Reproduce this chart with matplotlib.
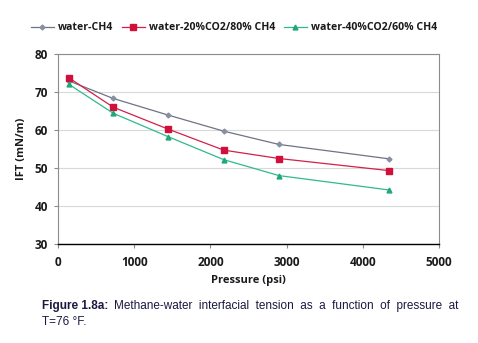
import matplotlib
matplotlib.use("Agg")
import matplotlib.pyplot as plt

pressure = [145, 725, 1450, 2175, 2900, 4350]
ift_ch4 = [72.9, 68.3, 63.9, 59.7, 56.2, 52.4]
ift_20 = [73.7, 66.0, 60.2, 54.7, 52.5, 49.3]
ift_40 = [72.0, 64.4, 58.2, 52.2, 48.0, 44.2]
labels = ["water-CH4", "water-20%CO2/80% CH4", "water-40%CO2/60% CH4"]
xticks = [0, 1000, 2000, 3000, 4000, 5000]
yticks = [30, 40, 50, 60, 70, 80]

fig = plt.figure(figsize=(4.78, 3.43), dpi=100)
ax = fig.add_axes([58/478, 1-244/343, (439-58)/478, (244-54)/343])

font = "Open Sans"
ax.plot(pressure, ift_ch4, color="#6f7385", lw=0.9, marker="D", ms=2.5,
        mfc="#8a8fa0", mec="#8a8fa0", label=labels[0])
ax.plot(pressure, ift_20, color="#d2204a", lw=0.9, marker="s", ms=4.5,
        mfc="#d0103a", mec="#d0103a", label=labels[1])
ax.plot(pressure, ift_40, color="#2fba8c", lw=0.9, marker="^", ms=3.5,
        mfc="#20a878", mec="#20a878", label=labels[2])

ax.set_xlim(0, 5000)
ax.set_ylim(30, 80)
ax.set_xticks(xticks)
ax.set_yticks(yticks)
ax.yaxis.grid(True, color="#d9d9d9", lw=0.8)
ax.set_axisbelow(True)
for s in ["top", "right", "left"]:
    ax.spines[s].set_color("#8c8c8c")
    ax.spines[s].set_linewidth(0.8)
ax.spines["bottom"].set_color("black")
ax.spines["bottom"].set_linewidth(1.0)
ax.tick_params(axis="both", length=3, width=0.8, color="#8c8c8c", pad=4)
for lab in ax.get_xticklabels() + ax.get_yticklabels():
    lab.set_fontfamily(font)
    lab.set_fontweight("bold")
    lab.set_fontsize(8.5)
    lab.set_color("#1a1a1a")
ax.tick_params(axis="x", pad=6)
ax.set_xlabel("Pressure (psi)", fontfamily=font, fontweight="bold", fontsize=8, color="#1a1a1a", labelpad=4)
ax.set_ylabel("IFT (mN/m)", fontfamily=font, fontweight="bold", fontsize=8, color="#1a1a1a", labelpad=6)

leg = fig.legend(loc="center", bbox_to_anchor=(234/478, 1-28/343), ncol=3, frameon=False,
                 prop={"family": font, "weight": "bold", "size": 7.6},
                 handlelength=2.2, columnspacing=0.8, handletextpad=0.4)
for t in leg.get_texts():
    t.set_color("#1a1a1a")

cap_color = "#1a1a40"
fig.text(42/478, 1-306/343, "Figure 1.8a:", fontfamily="Liberation Sans", fontweight="bold",
         fontsize=8.5, color=cap_color, va="center")
fig.text(114/478, 1-306/343, "Methane-water  interfacial  tension  as  a  function  of  pressure  at",
         fontfamily="Liberation Sans", fontsize=8.5, color=cap_color, va="center")
fig.text(42/478, 1-322/343, "T=76 °F.", fontfamily="Liberation Sans", fontsize=8.5,
         color=cap_color, va="center")

fig.savefig("out.png", dpi=100)
